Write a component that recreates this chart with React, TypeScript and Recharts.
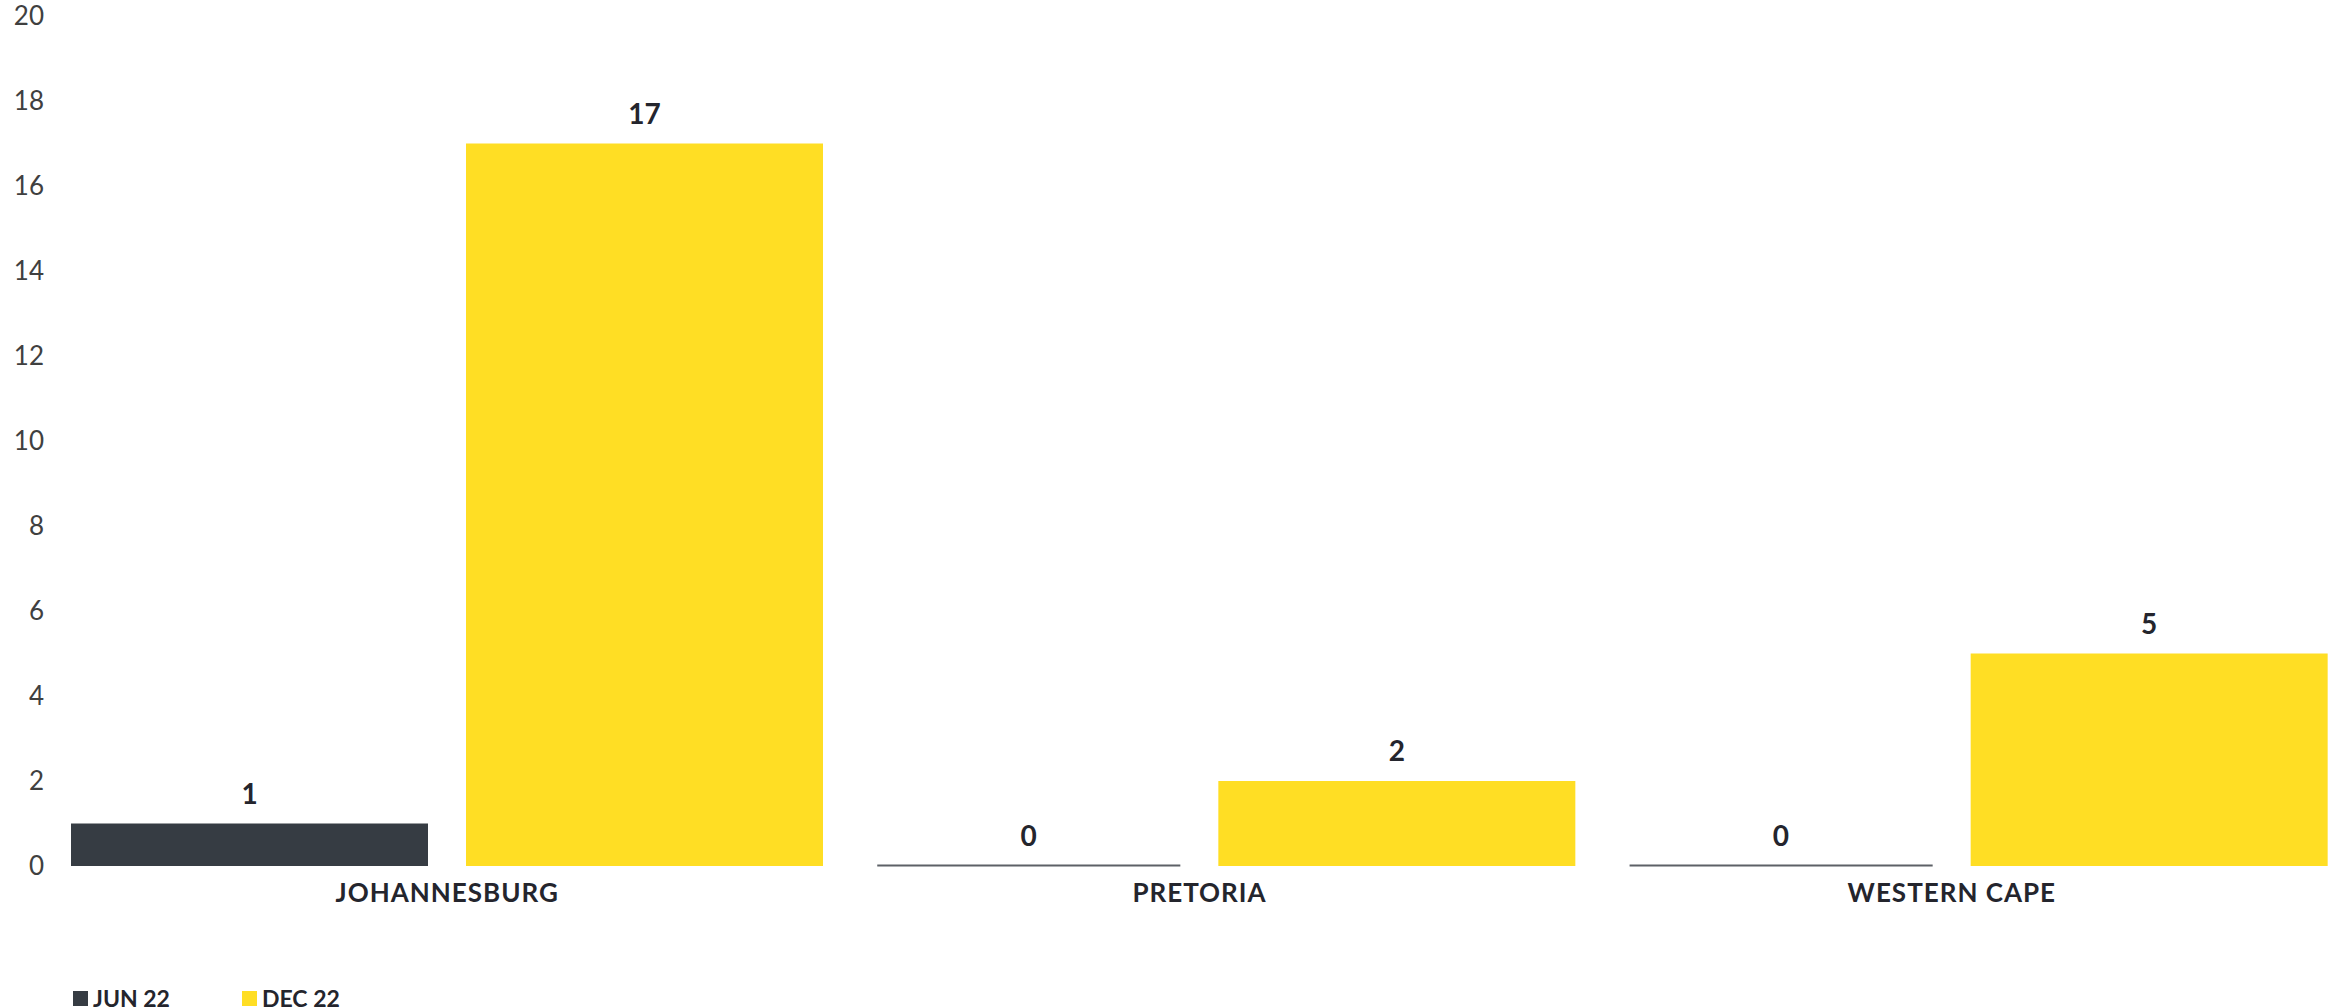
import { Bar, BarChart, LabelList, Legend, XAxis, YAxis } from "recharts";

const regions = ["JOHANNESBURG", "PRETORIA", "WESTERN CAPE"];
const jun22 = [1, 0, 0];
const dec22 = [17, 2, 5];
const yTicks = [0, 2, 4, 6, 8, 10, 12, 14, 16, 18, 20];

const JUN_COLOR = "#363c43";
const DEC_COLOR = "#ffde24";
const FONT = "Lato, 'Open Sans', sans-serif";

const data = regions.map((name, i) => ({
  name,
  jun: jun22[i],
  dec: dec22[i],
}));

// zero-valued bars show as a thin grey baseline, a bit shorter than the bar slot
function BarShape(props: any) {
  const { x, y, width, height, fill } = props;
  if (!height) {
    return (
      <rect x={x + width * 0.151} y={y - 1.5} width={width * 0.849} height={2} fill="#5d6167" />
    );
  }
  return <rect x={x} y={y} width={width} height={height} fill={fill} />;
}

function ValueLabel(props: any) {
  const { x, y, width, height, value } = props;
  const cx = height ? x + width / 2 : x + width * 0.575;
  return (
    <text
      x={cx}
      y={y - 20}
      textAnchor="middle"
      fontFamily={FONT}
      fontWeight={700}
      fontSize={28}
      fill="#24252d"
    >
      {value}
    </text>
  );
}

function LegendBox() {
  const items = [
    { label: "JUN 22", color: JUN_COLOR },
    { label: "DEC 22", color: DEC_COLOR },
  ];
  return (
    <div style={{ display: "flex", alignItems: "center" }}>
      {items.map((it) => (
        <div key={it.label} style={{ width: 169, display: "flex", alignItems: "center" }}>
          <span style={{ width: 15, height: 15, background: it.color, marginRight: 5 }} />
          <span
            style={{ fontFamily: FONT, fontWeight: 700, fontSize: 23, color: "#24252d" }}
          >
            {it.label}
          </span>
        </div>
      ))}
    </div>
  );
}

export default function App() {
  return (
    <div style={{ position: "absolute", left: 0, top: 0, background: "#fff" }}>
      <BarChart
        width={2331}
        height={1008}
        data={data}
        margin={{ top: 16, right: 3, bottom: 82, left: 0 }}
        barCategoryGap={0}
        barGap={38}
      >
        <XAxis
          dataKey="name"
          axisLine={false}
          tickLine={false}
          tickSize={0}
          tickMargin={18}
          height={60}
          tick={{
            fontFamily: FONT,
            fontWeight: 700,
            fontSize: 26,
            fill: "#24252d",
            letterSpacing: 1,
          }}
        />
        <YAxis
          domain={[0, 20]}
          ticks={yTicks}
          axisLine={false}
          tickLine={false}
          tickSize={0}
          tickMargin={27}
          width={71}
          interval={0}
          tick={{ fontFamily: FONT, fontSize: 26, fill: "#404040" }}
        />
        <Legend
          content={() => <LegendBox />}
          wrapperStyle={{
            position: "absolute",
            left: 73,
            top: 984,
            width: "auto",
            height: 0,
            overflow: "visible",
          }}
        />
        <Bar dataKey="jun" fill={JUN_COLOR} shape={BarShape} isAnimationActive={false}>
          <LabelList dataKey="jun" content={ValueLabel} />
        </Bar>
        <Bar dataKey="dec" fill={DEC_COLOR} shape={BarShape} isAnimationActive={false}>
          <LabelList dataKey="dec" content={ValueLabel} />
        </Bar>
      </BarChart>
    </div>
  );
}
